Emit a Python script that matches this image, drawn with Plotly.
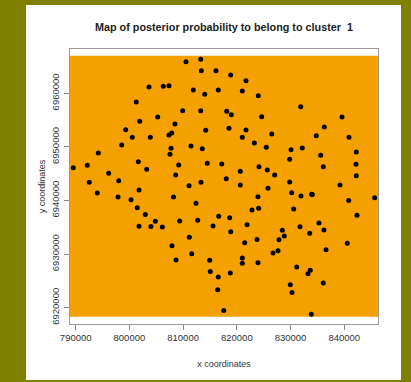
import plotly.graph_objects as go

x_coords = [
    810540, 813280, 813390, 816120, 818860, 821710, 803650, 806310, 807370, 811900,
    816550, 821020, 814020, 824000, 801280, 831900, 809920, 813280, 818120, 818970,
    824630, 805270, 839590, 801920, 808490, 836290, 818540, 799310, 814210, 821710,
    807880, 807370, 826500, 834800, 800540, 803890, 821020, 840890, 823260, 798570,
    811470, 825490, 832190, 807750, 813570, 830090, 842250, 794210, 807560, 835620,
    829850, 801660, 814500, 817190, 842190, 809180, 792160, 824130, 836100, 789550,
    803220, 825680, 820650, 796140, 827050, 808620, 842250, 818040, 798010, 829850,
    792530, 813330, 820650, 839210, 811100, 825810, 801790, 830220, 794020, 833940,
    834050, 831950, 823940, 797880, 808210, 845670, 800300, 840830, 812400, 801470,
    824070, 830590, 822830, 802960, 842380, 816630, 818670, 812720, 809360, 804820,
    835300, 821900, 815570, 801790, 804020, 806130, 831770, 836230, 828470, 818860,
    833570, 828840, 811150, 823760, 827850, 821470, 840570, 807930, 836610, 827670,
    826740, 811600, 821020, 808680, 814950, 823940, 821020, 831150, 833680, 815060,
    818790, 833250, 816550, 836100, 829960, 816440, 830280, 817560, 833870,
]
y_coords = [
    6965900, 6966350, 6964220, 6964220, 6963420, 6962360, 6961180, 6961310, 6961430, 6960620,
    6960620, 6960440, 6959820, 6959560, 6958380, 6957510, 6956760, 6956760, 6956650, 6956010,
    6955640, 6955590, 6955590, 6954780, 6954280, 6953720, 6953480, 6953210, 6953100, 6953160,
    6952600, 6952230, 6952410, 6952100, 6951800, 6951800, 6951800, 6951800, 6950730, 6950360,
    6950170, 6949930, 6949800, 6949740, 6949670, 6949480, 6949050, 6948870, 6948620, 6948440,
    6947690, 6947240, 6946950, 6946810, 6946760, 6946630, 6946570, 6946310, 6946310, 6946120,
    6945830, 6945700, 6945450, 6945080, 6944760, 6944760, 6944630, 6944070, 6943700, 6943460,
    6943400, 6943400, 6942900, 6942900, 6942770, 6942280, 6941960, 6941460, 6941400, 6941160,
    6941100, 6940840, 6940710, 6940660, 6940660, 6940530, 6940150, 6940000, 6939480, 6938660,
    6938550, 6938420, 6938230, 6937390, 6937240, 6937060, 6936790, 6936310, 6936180, 6936120,
    6935810, 6935490, 6935250, 6935190, 6935150, 6935060, 6935110, 6934500, 6934440, 6934180,
    6933880, 6933380, 6933140, 6932730, 6932690, 6932130, 6932020, 6931570, 6930800, 6930640,
    6930210, 6930080, 6929270, 6928900, 6928850, 6928400, 6928290, 6927600, 6926980, 6926760,
    6926480, 6926340, 6925730, 6924610, 6924290, 6923360, 6922840, 6919480, 6918770,
]

# extent of the posterior-probability raster (all one colour: cluster 1)
raster_x = [788940, 846290]
raster_y = [6918320, 6967010]

x_ticks = [790000, 800000, 810000, 820000, 830000, 840000]
y_ticks = [6920000, 6930000, 6940000, 6950000, 6960000]

title_text = "Map of posterior probability to belong to cluster  1"
x_label = "x coordinates"
y_label = "y coordinates"

W, H = 411, 382
L, R, T, B = 70, 33, 49, 58
pw, ph = W - L - R, H - T - B

def px_x(p):
    return (p - L) / pw

def px_y(p):
    return (H - B - p) / ph

fig = go.Figure()
fig.add_trace(go.Scatter(
    x=x_coords, y=y_coords, mode="markers",
    marker=dict(color="black", size=5, line=dict(width=0)),
    hoverinfo="x+y", showlegend=False,
))

shapes = [
    # white panel on the olive frame
    dict(type="rect", xref="paper", yref="paper",
         x0=px_x(26), x1=px_x(401), y0=px_y(380), y1=px_y(5),
         fillcolor="white", line=dict(width=0), layer="below"),
    # orange raster
    dict(type="rect", xref="x", yref="y",
         x0=raster_x[0], x1=raster_x[1], y0=raster_y[0], y1=raster_y[1],
         fillcolor="#F4A100", line=dict(width=0), layer="below"),
]

fig.update_layout(
    template="none",
    width=W, height=H,
    margin=dict(l=L, r=R, t=T, b=B, pad=0, autoexpand=False),
    paper_bgcolor="#808000",
    plot_bgcolor="white",
    shapes=shapes,
    font=dict(family="Liberation Sans, Arial, sans-serif", color="#333333", size=9.5),
    title=dict(text="<b>" + title_text + "</b>", x=224 / W,
               xanchor="center", y=1 - 27 / H, yanchor="middle",
               font=dict(size=10.8, color="#222222"), automargin=False),
    xaxis=dict(
        range=[788940, 846290], tickvals=x_ticks, tickformat="d",
        ticks="outside", ticklen=5, tickcolor="#888888", tickwidth=1,
        showline=True, linecolor="#999999", linewidth=1, mirror=True,
        showgrid=False, zeroline=False, automargin=False,
        title=dict(text=x_label, standoff=18, font=dict(size=9)),
    ),
    yaxis=dict(
        range=[6916960, 6968270], tickvals=y_ticks, tickformat="d",
        ticks="outside", ticklen=5, tickcolor="#888888", tickwidth=1, tickangle=-90,
        ticklabelstandoff=1,
        showline=True, linecolor="#999999", linewidth=1, mirror=True,
        showgrid=False, zeroline=False, automargin=False,
        title=dict(text=y_label, standoff=3, font=dict(size=9)),
    ),
)

fig.write_html(
    "out.html",
    config={"displayModeBar": False},
    post_script="document.body.style.margin='0';document.body.style.overflow='hidden';",
)
